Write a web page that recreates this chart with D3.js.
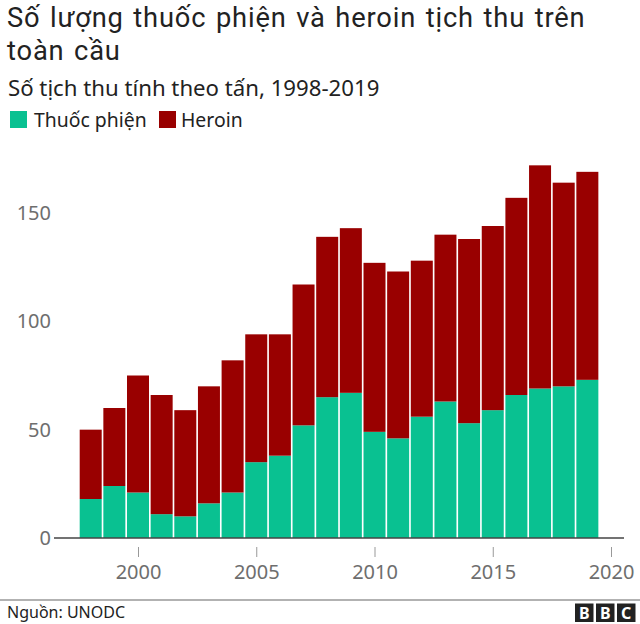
<!DOCTYPE html>
<html>
<head>
<meta charset="utf-8">
<script src="https://cdn.jsdelivr.net/npm/d3@7"></script>
<style>
  html, body { margin: 0; padding: 0; background: #fff; }
  svg { display: block; font-family: "Noto Sans", sans-serif; }
  .axis text { fill: #6e6e6e; font-size: 20px; font-family: "Noto Sans", sans-serif; }
  .title { font-family: Roboto, sans-serif; font-size: 27.3px; letter-spacing: 0.83px; word-spacing: 2px; fill: #222; }
</style>
</head>
<body>
<svg></svg>
<script>
const years = [1998, 1999, 2000, 2001, 2002, 2003, 2004, 2005, 2006, 2007, 2008, 2009, 2010, 2011, 2012, 2013, 2014, 2015, 2016, 2017, 2018, 2019];
const opium = [18, 24, 21, 11, 10, 16, 21, 35, 38, 52, 65, 67, 49, 46, 56, 63, 53, 59, 66, 69, 70, 73];
const heroin = [32, 36, 54, 55, 49, 54, 61, 59, 56, 65, 74, 76, 78, 77, 72, 77, 85, 85, 91, 103, 94, 96];
const xTicks = [2000, 2005, 2010, 2015, 2020];
const yTicks = [0, 50, 100, 150];
const seriesNames = ["Thuốc phiện", "Heroin"];
const seriesColors = ["#09c191", "#990000"];

const svgWidth = 640, svgHeight = 624;

const xScale = d3.scaleLinear().domain([2000, 2020]).range([138, 611]);
const yScale = d3.scaleLinear().domain([0, 150]).range([538, 213]);
const barWidth = 22;

const svg = d3.select("svg")
  .attr("width", svgWidth)
  .attr("height", svgHeight);

// titles
svg.append("text").attr("class", "title").attr("x", 7).attr("y", 27).text("Số lượng thuốc phiện và heroin tịch thu trên");
svg.append("text").attr("class", "title").attr("x", 7).attr("y", 59.5).text("toàn cầu");
svg.append("text").attr("x", 8).attr("y", 96).attr("font-size", 22.2).attr("fill", "#222").text("Số tịch thu tính theo tấn, 1998-2019");

// legend
const legendX = [10, 159], legendText = [34, 181];
seriesNames.forEach((name, i) => {
  svg.append("rect").attr("x", legendX[i]).attr("y", 111).attr("width", 17).attr("height", 17).attr("fill", seriesColors[i]);
  svg.append("text").attr("x", legendText[i]).attr("y", 127).attr("font-size", 19.4).attr("fill", "#222").text(name);
});

// stacked bars
const rows = years.map((y, i) => ({ year: y, opium: opium[i], heroin: heroin[i] }));
const stacked = d3.stack().keys(["opium", "heroin"])(rows);

svg.selectAll("g.layer")
  .data(stacked)
  .enter()
  .append("g")
  .attr("class", "layer")
  .attr("fill", (d, i) => seriesColors[i])
  .selectAll("rect")
  .data(d => d)
  .enter()
  .append("rect")
  .attr("x", d => xScale(d.data.year) - barWidth / 2)
  .attr("width", barWidth)
  .attr("y", d => yScale(d[1]))
  .attr("height", d => yScale(d[0]) - yScale(d[1]));

// y axis, labels only
const yAxis = d3.axisLeft(yScale).tickValues(yTicks).tickSize(0).tickPadding(0);
svg.append("g")
  .attr("class", "axis")
  .attr("transform", "translate(51, 0)")
  .call(yAxis)
  .call(g => g.select(".domain").remove());

// baseline
svg.append("line")
  .attr("x1", 54).attr("x2", 624)
  .attr("y1", yScale(0)).attr("y2", yScale(0))
  .attr("stroke", "#444").attr("stroke-width", 1.5);

// x axis
const xAxis = d3.axisBottom(xScale).tickValues(xTicks).tickFormat(d3.format("d")).tickSize(10).tickPadding(8);
svg.append("g")
  .attr("class", "axis")
  .attr("transform", "translate(0, 547)")
  .call(xAxis)
  .call(g => g.select(".domain").remove())
  .call(g => g.selectAll("line").attr("stroke", "#999"));

// footer
svg.append("line").attr("x1", 0).attr("x2", 640).attr("y1", 600).attr("y2", 600).attr("stroke", "#999").attr("stroke-width", 1.5);
svg.append("text").attr("x", 7).attr("y", 618).attr("font-size", 16).attr("fill", "#222").text("Nguồn: UNODC");

["B", "B", "C"].forEach((c, i) => {
  const lx = 575 + i * 21;
  svg.append("rect").attr("x", lx).attr("y", 603.5).attr("width", 18.5).attr("height", 18.5).attr("fill", "#222");
  svg.append("text").attr("x", lx + 9.25).attr("y", 618.5).attr("text-anchor", "middle")
    .attr("font-size", 16).attr("font-weight", "bold").attr("fill", "#fff").text(c);
});
</script>
</body>
</html>
